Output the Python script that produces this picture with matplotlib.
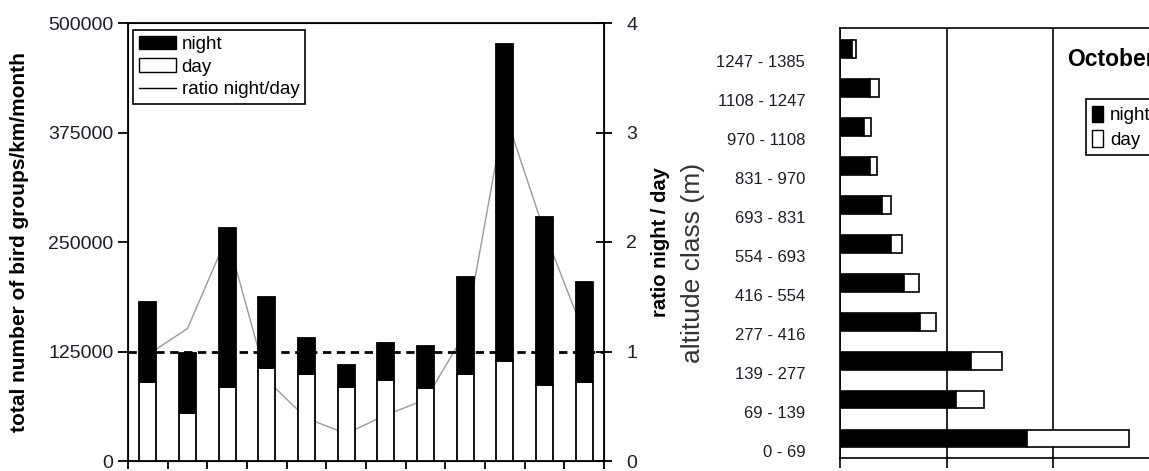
import matplotlib.pyplot as plt
import numpy as np
from matplotlib.transforms import ScaledTranslation
from matplotlib.patches import Patch
from matplotlib.lines import Line2D

plt.rcParams['font.family'] = ['Liberation Sans', 'DejaVu Sans']

# monthly totals (bird groups/km/month)
months = list(range(1, 13))
day = [90500, 54400, 84800, 106500, 99300, 84800, 92500, 83000, 99300, 114200, 86800, 90500]
night = [91300, 69200, 180800, 80300, 40700, 24800, 42600, 48300, 111100, 361800, 191400, 114200]
ratio = [0.97, 1.21, 2.05, 0.74, 0.39, 0.25, 0.42, 0.56, 1.17, 3.18, 2.09, 1.16]

# altitude distribution in October
alt_classes = ['0 - 69', '69 - 139', '139 - 277', '277 - 416', '416 - 554', '554 - 693',
               '693 - 831', '831 - 970', '970 - 1108', '1108 - 1247', '1247 - 1385']
alt_night = [17.6, 10.9, 12.3, 7.5, 6.0, 4.8, 3.9, 2.8, 2.3, 2.8, 1.1]
alt_day = [9.5, 2.6, 2.9, 1.5, 1.4, 1.0, 0.9, 0.7, 0.6, 0.9, 0.4]

fig = plt.figure(figsize=(11.49, 4.71), dpi=100)

# ---- left panel
ax = fig.add_axes([128 / 1149, 10 / 471, 476 / 1149, 438 / 471])
x = np.arange(len(months))
ax.bar(x, day, width=0.43, color='white', edgecolor='black', linewidth=1.3, zorder=3)
ax.bar(x, night, width=0.43, bottom=day, color='black', edgecolor='black', linewidth=1.3, zorder=3)
ax.set_xlim(-0.5, 11.5)
ax.set_ylim(0, 500000)
ax.set_yticks([0, 125000, 250000, 375000, 500000])
ax.set_xticks(np.arange(-0.5, 12, 1))
ax.set_xticklabels([])
ax.tick_params(axis='x', direction='out', length=6, width=1.3)
ax.tick_params(axis='y', direction='out', length=7, width=1.3, labelsize=14, labelcolor='#1c1c2e')
for s in ax.spines.values():
    s.set_linewidth(1.3)
ax.set_ylabel('total number of bird groups/km/month', fontsize=15, fontweight='bold', labelpad=14)

ax2 = ax.twinx()
ax2.plot(x, ratio, color='#9a9a9a', linewidth=1.0, zorder=1)
ax2.axhline(1, color='black', linewidth=2.0, linestyle=(0, (3, 2)), zorder=5)
ax2.set_ylim(0, 4)
ax2.set_yticks([0, 1, 2, 3, 4])
ax2.tick_params(axis='y', direction='inout', length=12, width=1.3, labelsize=14,
                labelcolor='#1c1c2e', pad=10)
ax2.set_ylabel('ratio night / day', fontsize=14.5, fontweight='bold', labelpad=10)
ax.set_zorder(ax2.get_zorder() + 1)
ax.patch.set_visible(False)

handles = [Patch(facecolor='black', edgecolor='black'),
           Patch(facecolor='white', edgecolor='black'),
           Line2D([], [], color='black', linewidth=1.0)]
leg = ax.legend(handles, ['night', 'day', 'ratio night/day'], loc='upper left',
                bbox_to_anchor=(0.0105, 0.984), borderaxespad=0, fontsize=13.5,
                handlelength=2.0, handleheight=0.7, labelspacing=0.3, handletextpad=0.3,
                borderpad=0.3, fancybox=False, framealpha=1)
leg.get_frame().set_edgecolor('black')
leg.get_frame().set_linewidth(1.2)

# ---- right panel
axr = fig.add_axes([840 / 1149, 13 / 471, 426 / 1149, 430 / 471])
y = np.arange(len(alt_classes))
axr.barh(y, alt_night, height=0.44, color='black', edgecolor='black', linewidth=1.2, zorder=3)
axr.barh(y, alt_day, height=0.44, left=alt_night, color='white', edgecolor='black', linewidth=1.2, zorder=3)
axr.set_xlim(0, 40)
axr.set_ylim(-0.49, 10.54)
axr.set_xticks([0, 10, 20, 30, 40])
axr.set_xticklabels([])
axr.grid(axis='x', color='black', linewidth=1.2, zorder=0)
axr.tick_params(axis='x', direction='out', length=7, width=1.2)
axr.set_yticks(y)
axr.set_yticklabels(alt_classes, fontsize=12, color='#1c1c2e')
axr.tick_params(axis='y', length=0, pad=25)
offset = ScaledTranslation(0, -0.12, fig.dpi_scale_trans)
for lab in axr.get_yticklabels():
    lab.set_transform(lab.get_transform() + offset)
for s in axr.spines.values():
    s.set_linewidth(1.2)
axr.set_ylabel('altitude class (m)', fontsize=19, color='#333333')
axr.yaxis.set_label_coords(-0.318, 0.453)
axr.text(0.533, 0.926, 'October', transform=axr.transAxes, fontsize=16.5,
         fontweight='bold', va='center', ha='left')
legr = axr.legend([Patch(facecolor='black', edgecolor='black'),
                   Patch(facecolor='white', edgecolor='black')], ['night', 'day'],
                  loc='upper left', bbox_to_anchor=(0.577, 0.835), borderaxespad=0,
                  fontsize=13.5, handlelength=0.55, handleheight=1.0, handletextpad=0.4,
                  labelspacing=0.3, borderpad=0.35, fancybox=False, framealpha=1)
legr.get_frame().set_edgecolor('black')
legr.get_frame().set_linewidth(1.2)

fig.savefig('out.png', dpi=100)
